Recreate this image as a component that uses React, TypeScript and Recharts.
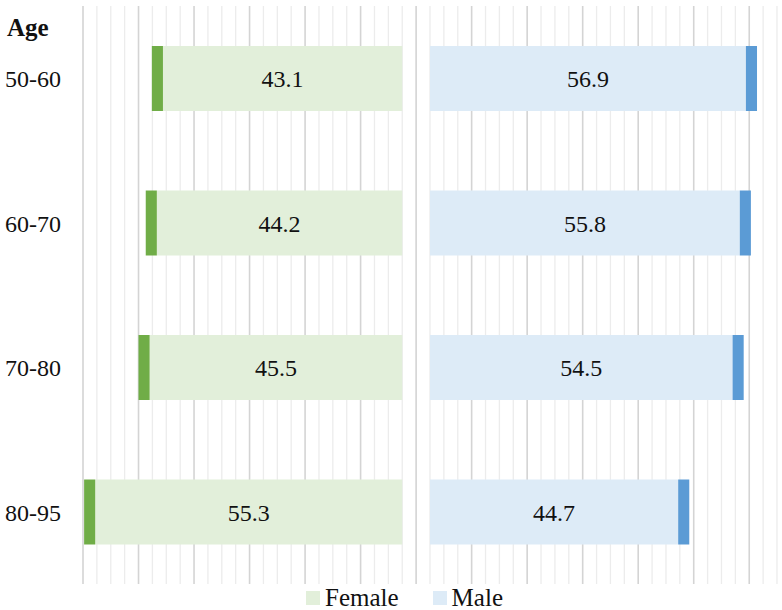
import { BarChart, Bar, XAxis, YAxis, CartesianGrid, Legend, LabelList } from 'recharts';

const ageGroups = ['50-60', '60-70', '70-80', '80-95'];
const femaleShare = [43.1, 44.2, 45.5, 55.3];
const maleShare = [56.9, 55.8, 54.5, 44.7];

// grid positions on the shared value axis, every 2.5 with a darker line every 10
const gridTicks = Array.from({ length: 51 }, (_, i) => -60 + i * 2.5);

const GAP = 2.5; // empty space either side of zero
const CAP = 2; // dark end piece of each bar

const FONT = '"Liberation Serif", "DejaVu Serif", serif';

const rows = ageGroups.map((age, i) => ({
  age,
  fGap: -GAP,
  female: -femaleShare[i],
  fCap: -CAP,
  femaleLabel: femaleShare[i],
  mGap: GAP,
  male: maleShare[i],
  mCap: CAP,
  maleLabel: maleShare[i],
}));

const GridLine = (props: any) => {
  const { x1, y1, x2, y2, index } = props;
  const major = index % 4 === 0 && index <= 48;
  return (
    <line
      x1={x1}
      y1={y1}
      x2={x2}
      y2={y2}
      stroke={major ? '#d4d4d4' : '#ececec'}
      strokeWidth={major ? 1.6 : 1.3}
    />
  );
};

const AgeTick = ({ y, payload }: any) => (
  <text x={5} y={y} dy={9} fontSize={24} fontFamily={FONT} fill="#111">
    {payload.value}
  </text>
);

const LegendContent = ({ payload }: any) => {
  const items = (payload || []).filter((p: any) => p.type !== 'none');
  return (
    <div
      style={{
        display: 'flex',
        justifyContent: 'center',
        alignItems: 'center',
        height: 26,
        paddingLeft: 32,
        paddingTop: 2,
        boxSizing: 'border-box',
        fontFamily: FONT,
        fontSize: 25,
        color: '#111',
      }}
    >
      {items.map((p: any, i: number) => (
        <div key={p.value} style={{ display: 'flex', alignItems: 'center', marginRight: i < items.length - 1 ? 34 : 0 }}>
          <span style={{ width: 14, height: 14, background: p.color, marginRight: 5, display: 'inline-block' }} />
          <span>{p.value}</span>
        </div>
      ))}
    </div>
  );
};

export default function App() {
  return (
    <div style={{ position: 'absolute', left: 0, top: 0, width: 782, height: 610, fontFamily: FONT }}>
      <div
        style={{
          position: 'absolute',
          left: 7,
          top: 15,
          fontSize: 25,
          lineHeight: '25px',
          fontWeight: 'bold',
          color: '#111',
          zIndex: 2,
        }}
      >
        Age
      </div>
      <BarChart
        width={782}
        height={610}
        data={rows}
        layout="vertical"
        stackOffset="sign"
        barSize={65}
        margin={{ top: 6, right: 5, bottom: 0, left: 0 }}
        style={{ fontFamily: FONT }}
      >
        <CartesianGrid horizontal={false} vertical={<GridLine />} verticalValues={gridTicks} />
        <XAxis
          type="number"
          domain={[-60, 65]}
          ticks={gridTicks}
          interval={0}
          tick={{ fontSize: 0 }}
          axisLine={false}
          tickLine={false}
          height={0}
        />
        <YAxis
          type="category"
          dataKey="age"
          width={83}
          axisLine={false}
          tickLine={false}
          tick={<AgeTick />}
        />
        <Legend verticalAlign="bottom" content={<LegendContent />} />
        <Bar dataKey="fGap" stackId="a" fill="transparent" legendType="none" isAnimationActive={false} />
        <Bar dataKey="female" name="Female" stackId="a" fill="#E2EFDA" isAnimationActive={false}>
          <LabelList dataKey="femaleLabel" position="center" fill="#111" fontSize={24} fontFamily={FONT} />
        </Bar>
        <Bar dataKey="fCap" stackId="a" fill="#70AD47" legendType="none" isAnimationActive={false} />
        <Bar dataKey="mGap" stackId="a" fill="transparent" legendType="none" isAnimationActive={false} />
        <Bar dataKey="male" name="Male" stackId="a" fill="#DDEBF7" isAnimationActive={false}>
          <LabelList dataKey="maleLabel" position="center" fill="#111" fontSize={24} fontFamily={FONT} />
        </Bar>
        <Bar dataKey="mCap" stackId="a" fill="#5B9BD5" legendType="none" isAnimationActive={false} />
      </BarChart>
    </div>
  );
}
